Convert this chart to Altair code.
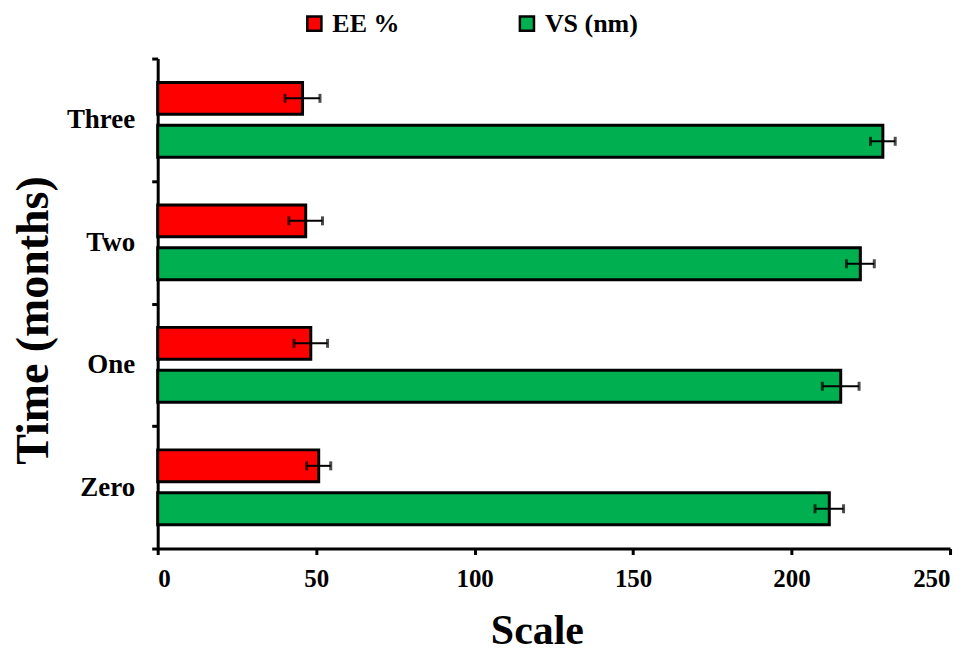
import altair as alt
import pandas as pd

times = ["Three", "Two", "One", "Zero"]
series = ["EE %", "VS (nm)"]
ee_values = [45.7, 46.7, 48.3, 50.8]
ee_errors = [5.5, 5.3, 5.3, 3.8]
vs_values = [228.8, 221.7, 215.5, 211.9]
vs_errors = [3.9, 4.4, 5.8, 4.5]
x_ticks = [0, 50, 100, 150, 200, 250]

rows = []
for t, v, e in zip(times, ee_values, ee_errors):
    rows.append({"time": t, "series": series[0], "value": v, "lo": v - e, "hi": v + e})
for t, v, e in zip(times, vs_values, vs_errors):
    rows.append({"time": t, "series": series[1], "value": v, "lo": v - e, "hi": v + e})
df = pd.DataFrame(rows)

FONT = "Liberation Serif"

y_enc = alt.Y("time:N", sort=times,
              scale=alt.Scale(paddingInner=0, paddingOuter=0),
              axis=alt.Axis(title="Time (months)", tickBand="extent",
                            labelFontSize=27, labelFont=FONT, labelFontWeight="bold",
                            labelPadding=17, titleFontSize=46, titleFont=FONT,
                            titleFontWeight="bold", titlePadding=9, titleY=262,
                            domainWidth=3, tickWidth=3, tickSize=6,
                            domainColor="black", tickColor="black",
                            labelColor="black", titleColor="black"))
yoff_enc = alt.YOffset("series:N", sort=series,
                       scale=alt.Scale(paddingInner=0.256, paddingOuter=0.555))

x_scale = alt.Scale(domain=[0, 250], nice=False)
x_axis = alt.Axis(title="Scale", values=x_ticks, grid=False,
                  labelFontSize=25, labelFont=FONT, labelFontWeight="bold",
                  labelPadding=12, titleFontSize=42, titleFont=FONT,
                  titleFontWeight="bold", titlePadding=19, titleX=380,
                  domainWidth=3, tickWidth=3, tickSize=6,
                  domainColor="black", tickColor="black",
                  labelColor="black", titleColor="black")

bars = alt.Chart(df).mark_bar(stroke="black", strokeWidth=3).encode(
    x=alt.X("value:Q", scale=x_scale, axis=x_axis),
    y=y_enc,
    yOffset=yoff_enc,
    color=alt.Color("series:N", sort=series,
                    scale=alt.Scale(domain=series, range=["#FF0000", "#00B050"]),
                    legend=alt.Legend(title=None, orient="none", legendX=144, legendY=-48,
                                      direction="horizontal", symbolType="square",
                                      symbolSize=200, symbolStrokeColor="black",
                                      symbolStrokeWidth=2.5, labelFont=FONT,
                                      labelFontSize=26, labelFontWeight="bold",
                                      labelColor="black", labelOffset=5,
                                      columnPadding=114)),
)

rules = alt.Chart(df).mark_rule(color="black", strokeWidth=2).encode(
    x=alt.X("lo:Q", scale=x_scale),
    x2="hi:Q",
    y=alt.Y("time:N", sort=times),
    yOffset=alt.YOffset("series:N", sort=series),
)

caps_lo = alt.Chart(df).mark_tick(color="black", thickness=3, size=9, orient="vertical").encode(
    x=alt.X("lo:Q", scale=x_scale),
    y=alt.Y("time:N", sort=times),
    yOffset=alt.YOffset("series:N", sort=series),
)
caps_hi = alt.Chart(df).mark_tick(color="black", thickness=3, size=9, orient="vertical").encode(
    x=alt.X("hi:Q", scale=x_scale),
    y=alt.Y("time:N", sort=times),
    yOffset=alt.YOffset("series:N", sort=series),
)

chart = alt.layer(bars, rules, caps_lo, caps_hi).properties(
    width=794, height=491,
    autosize=alt.AutoSizeParams(type="none"),
    padding={"left": 150, "top": 50, "right": 20, "bottom": 104},
).configure_view(stroke=None).configure_axis(grid=False)

chart.save("out.html", embed_options={"renderer": "svg", "actions": False})
